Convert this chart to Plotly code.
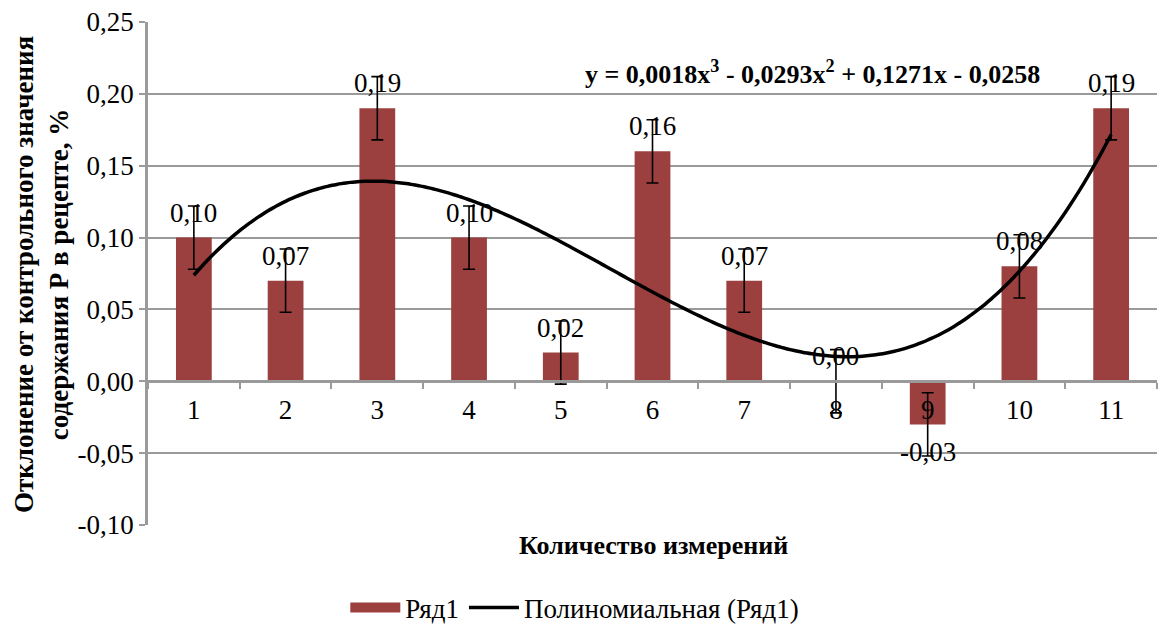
import numpy as np
import plotly.graph_objects as go

categories = [1, 2, 3, 4, 5, 6, 7, 8, 9, 10, 11]
values = [0.10, 0.07, 0.19, 0.10, 0.02, 0.16, 0.07, 0.00, -0.03, 0.08, 0.19]
errors = [0.022] * 11
labels = ["0,10", "0,07", "0,19", "0,10", "0,02", "0,16", "0,07", "0,00", "-0,03", "0,08", "0,19"]
y_ticks = [-0.10, -0.05, 0.00, 0.05, 0.10, 0.15, 0.20, 0.25]
y_ticktext = ["-0,10", "-0,05", "0,00", "0,05", "0,10", "0,15", "0,20", "0,25"]
equation = "y = 0,0018x<sup>3</sup> - 0,0293x<sup>2</sup> + 0,1271x - 0,0258"
y_title = "Отклонение от контрольного значения<br>содержания Р в рецепте, %"
x_title = "Количество измерений"
series_name = "Ряд1"
trend_name = "Полиномиальная (Ряд1)"

FONT = "Liberation Serif"
BAR = "#9B403F"
GRID = "#9A9A9A"

# polynomial trendline (degree 3 least squares fit of the series, like Excel)
coef = np.polyfit(categories, values, 3)
xs = np.linspace(1, 11, 200)
ys = np.polyval(coef, xs)

fig = go.Figure()
fig.add_trace(go.Bar(
    x=categories, y=values, name=series_name, showlegend=False,
    marker=dict(color=BAR, line=dict(width=0)),
    width=0.39,
    error_y=dict(type="data", array=errors, visible=True, color="black", thickness=1.6, width=6),
    xaxis="x2",
))
# legend entry for the bar series (wide rectangle swatch as in the reference)
fig.add_trace(go.Scatter(
    x=[None], y=[None], mode="lines", name=series_name,
    line=dict(color=BAR, width=10), xaxis="x2",
))
fig.add_trace(go.Scatter(
    x=xs, y=ys, mode="lines", name=trend_name,
    line=dict(color="black", width=3.5, shape="spline"),
    xaxis="x2",
))

PLOT_H = 503
PLOT_W = 1009
ann = []
for c, v, t in zip(categories, values, labels):
    ann.append(dict(x=c, y=v, xref="x2", yref="y", text=t, showarrow=False,
                    yshift=(25 if v >= 0 else -28),
                    font=dict(family=FONT, size=27, color="black")))
ann.append(dict(x=(583 - 148) / PLOT_W, y=1.0 - (73 - 22) / PLOT_H, xref="paper", yref="paper",
                text=equation, showarrow=False, xanchor="left", yanchor="middle",
                font=dict(family=FONT, size=26, color="black", weight="bold")))
ann.append(dict(x=(653 - 148) / PLOT_W, y=-(545 - 525) / PLOT_H, xref="paper", yref="paper",
                text="<b>" + x_title + "</b>", showarrow=False,
                xanchor="center", yanchor="middle",
                font=dict(family=FONT, size=26, color="black")))
ann.append(dict(x=(41 - 148) / PLOT_W, y=(525 - 275) / PLOT_H, xref="paper", yref="paper",
                text="<b>" + y_title + "</b>", showarrow=False, textangle=-90,
                xanchor="center", yanchor="middle",
                font=dict(family=FONT, size=27, color="black")))

zero_pos = 0.10 / 0.35

fig.update_layout(
    width=1165, height=628,
    margin=dict(l=148, r=8, t=22, b=103, autoexpand=False),
    paper_bgcolor="white", plot_bgcolor="white",
    font=dict(family=FONT, size=27, color="black"),
    showlegend=True,
    legend=dict(orientation="h", x=0.423, xanchor="center", y=-(608 - 525) / PLOT_H, yanchor="middle",
                font=dict(family=FONT, size=27, color="black"), itemwidth=50,
                bgcolor="rgba(0,0,0,0)"),
    annotations=ann,
    xaxis=dict(visible=False, range=[0.5, 11.5]),
    xaxis2=dict(
        type="linear", range=[0.5, 11.5], anchor="free", position=zero_pos, overlaying="x",
        tickvals=categories, ticktext=[str(c) for c in categories],
        showline=True, linecolor=GRID, linewidth=2.5,
        ticks="", showgrid=False, zeroline=False, ticklabelstandoff=4,
        tickfont=dict(family=FONT, size=27, color="black"),
        minor=dict(tickvals=[c + 0.5 for c in [0] + categories], ticks="outside",
                   ticklen=6, tickwidth=2, tickcolor=GRID, showgrid=False),
    ),
    yaxis=dict(
        range=[-0.10, 0.25], tickvals=y_ticks, ticktext=y_ticktext,
        showgrid=True, gridcolor=GRID, gridwidth=2, zeroline=False,
        showline=True, linecolor=GRID, linewidth=2.5,
        ticks="outside", ticklen=6, tickwidth=2, tickcolor=GRID,
        tickfont=dict(family=FONT, size=27, color="black"),
        automargin=False,
    ),
)

fig.write_html("out.html")
